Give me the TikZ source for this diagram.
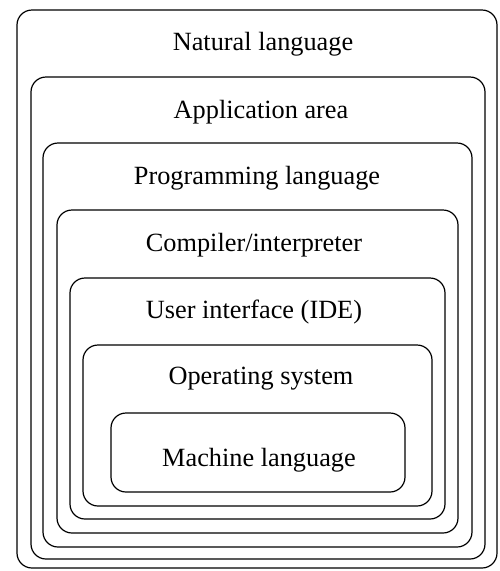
\documentclass[tikz,border=0pt]{standalone}
\usepackage{fontspec}
\setmainfont{Liberation Serif}
\begin{document}
\begin{tikzpicture}[x=1pt,y=1pt,
  layer/.style={draw=black, line width=1.2pt, rounded corners=15pt, inner sep=0pt},
  lbl/.style={font=\fontsize{26.3}{30}\selectfont, inner sep=0pt, anchor=center}]
\useasboundingbox (0,0) rectangle (499,-571);
% boxes given by left, top, right, bottom in pixels
\newcommand{\layerbox}[5]{%
  \node[layer, minimum width={#4-#2}, minimum height={#5-#3}] (#1) at ({(#2+#4)/2},{-(#3+#5)/2}) {};}
\layerbox{nat}{17}{10}{497}{568}
\layerbox{app}{31}{77}{485}{559}
\layerbox{prog}{43}{143}{472}{547}
\layerbox{comp}{57}{210}{458}{533}
\layerbox{ui}{70}{278}{445}{519}
\layerbox{os}{83}{345}{432}{506}
\layerbox{mach}{111}{413}{405}{492}
\node[lbl] (tnat) at (263,-44) {Natural language};
\node[lbl] (tapp) at (261,-112) {Application area};
\node[lbl] (tprog) at (257,-178) {Programming language};
\node[lbl] (tcomp) at (254,-245) {Compiler/interpreter};
\node[lbl] (tui) at (254,-312) {User interface (IDE)};
\node[lbl] (tos) at (261,-379) {Operating system};
\node[lbl] (tmach) at (259,-460) {Machine language};
\end{tikzpicture}
\end{document}
